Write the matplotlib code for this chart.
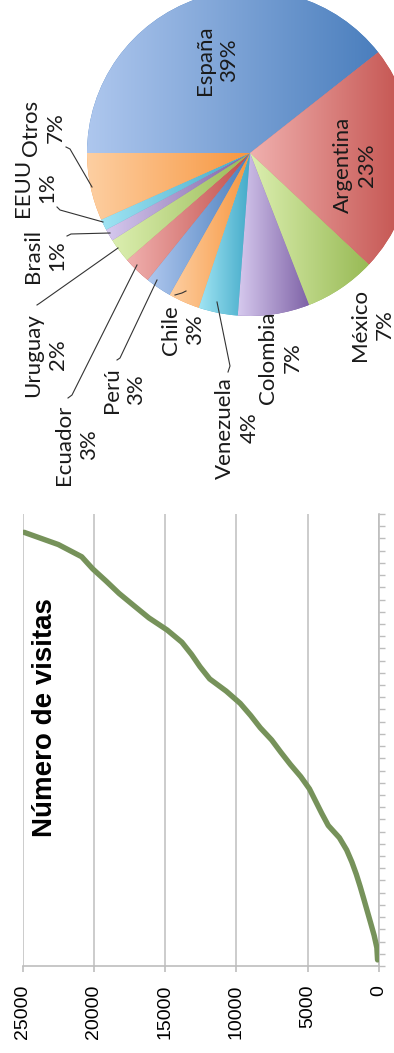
import numpy as np
import matplotlib
matplotlib.use("Agg")
import matplotlib.pyplot as plt
from matplotlib.colors import LinearSegmentedColormap

# ---------------- data ----------------
visits = [100, 150, 340, 580, 825, 1070, 1320, 1590, 1900, 2270, 2780, 3560,
          4020, 4450, 4880, 5490, 6220, 6890, 7530, 8330, 9000, 9740, 10720,
          11880, 12560, 13150, 13830, 14860, 16150, 17200, 18240, 19140,
          20080, 20860, 22500, 24900]
n_categories = 37
value_ticks = [0, 5000, 10000, 15000, 20000, 25000]
line_title = "Número de visitas"

countries = ["España", "Argentina", "México", "Colombia", "Venezuela", "Chile",
             "Perú", "Ecuador", "Uruguay", "Brasil", "EEUU", "Otros"]
shares = [39.4, 22.6, 7.1, 7.1, 3.9, 3.1, 2.6, 2.8, 2.4, 1.2, 1.1, 6.7]

# ---------------- figure ----------------
W, H = 394, 1053
fig = plt.figure(figsize=(W / 100, H / 100), dpi=100)
fig.patch.set_facecolor("white")

def fx(px):
    return px / W

def fy(py):
    return 1 - py / H

# ---------- line chart (rotated orientation) ----------
x_left, x_right, y_top, y_bot = 22.7, 379, 514, 966
ax = fig.add_axes([fx(x_left), fy(y_bot), (x_right - x_left) / W, (y_bot - y_top) / H])
cat = np.arange(len(visits))
ax.plot(visits, cat, color="#76925a", lw=3.9, solid_capstyle="round",
        solid_joinstyle="round", zorder=3)
ax.set_xlim(25000, 0)
ax.set_ylim(-0.5, n_categories - 0.5)
ax.set_xticks(value_ticks)
ax.set_xticklabels([str(v) for v in value_ticks], rotation=90,
                   fontsize=14, family="Liberation Sans")
ax.tick_params(axis="x", length=4.5, width=1.2, color="#bdbdbd", pad=9)
ax.yaxis.tick_right()
ax.set_yticks(np.arange(-0.5, n_categories, 1.0))
ax.set_yticklabels([])
ax.tick_params(axis="y", length=4.5, width=1.0, color="#bdbdbd", direction="out")
ax.grid(axis="x", color="#c4c4c4", lw=1.2)
ax.set_axisbelow(True)
for s in ["left", "top"]:
    ax.spines[s].set_visible(False)
for s in ["right", "bottom"]:
    ax.spines[s].set_color("#bdbdbd")
    ax.spines[s].set_linewidth(1.2)

fig.text(fx(45), fy(718), line_title, rotation=90, ha="center", va="center",
         fontsize=20, fontweight="bold", family="Liberation Sans")

# ---------- pie chart (rotated orientation) ----------
cx, cy, R = 250, 153, 163
pax = fig.add_axes([fx(cx - R), fy(cy + R), 2 * R / W, 2 * R / H])

grads = [("#aec7ee", "#4a7ebd"), ("#f0b0ae", "#c24f4b"), ("#dcefb0", "#98ba55"),
         ("#d6c9ee", "#7e62a6"), ("#a0e4f3", "#42a9c8"), ("#fdcfa2", "#f7963f")]
base_cols = [grads[i % 6][1] for i in range(len(shares))]
wedges, _ = pax.pie(shares, startangle=180, counterclock=False, colors=base_cols,
                    wedgeprops=dict(linewidth=0))
grad = np.linspace(0, 1, 256).reshape(1, -1)
for i, w in enumerate(wedges):
    light, dark = grads[i % 6]
    cmap = LinearSegmentedColormap.from_list(f"g{i}", [light, dark])
    bb = w.get_path().get_extents()
    im = pax.imshow(grad, cmap=cmap, extent=[bb.x0, bb.x1, bb.y0, bb.y1],
                    aspect="auto", zorder=w.get_zorder() + 0.1, interpolation="bilinear")
    im.set_clip_path(w)
pax.set_xlim(-1, 1)
pax.set_ylim(-1, 1)
pax.set_aspect("equal")
pax.axis("off")

def P(x, y):
    return ((x - cx) / R, -(y - cy) / R)

label_pos = {
    "España": (217, 60), "Argentina": (355, 165), "México": (372, 325),
    "Colombia": (280, 358), "Venezuela": (237, 428), "Chile": (183, 330),
    "Perú": (124, 390), "Ecuador": (76.5, 445), "Uruguay": (46, 355),
    "Brasil": (45, 256), "EEUU": (35, 188), "Otros": (43, 128),
}
for name, val in zip(countries, shares):
    x, y = P(*label_pos[name])
    pax.text(x, y, f"{name}\n{int(round(val))}%", rotation=90, ha="center",
             va="center", multialignment="center", fontsize=16, family="Lato",
             color="#1a1a1a", linespacing=1.3, clip_on=False, zorder=10)

leaders = [
    [(66, 147), (70, 149), (92, 187)],
    [(57, 207), (60, 210), (103, 222)],
    [(67, 236), (71, 234), (110, 233)],
    [(37, 305), (40, 303), (118, 248)],
    [(68, 398), (72, 395), (137, 265)],
    [(117, 360), (120, 358), (157, 280)],
    [(175, 295), (182, 293), (186, 291)],
    [(228, 372), (230, 366), (217, 302)],
]
for pts in leaders:
    xs, ys = zip(*[P(*p) for p in pts])
    pax.plot(xs, ys, color="#333333", lw=0.8, clip_on=False, zorder=9)

fig.savefig("out.png", dpi=100, facecolor="white")
